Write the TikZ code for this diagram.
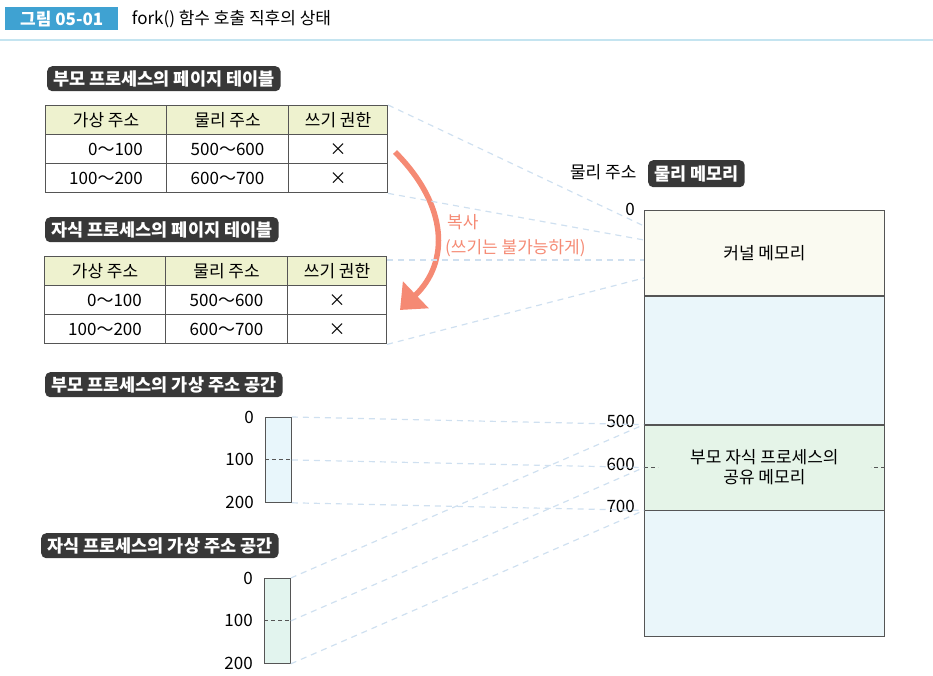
\documentclass[tikz,border=0pt]{standalone}
\usepackage{fontspec}
\setmainfont{Noto Sans CJK KR}
\usetikzlibrary{arrows.meta,matrix,positioning}

\definecolor{tabblue}{HTML}{3FA2D2}
\definecolor{rulecol}{HTML}{C4E4F0}
\definecolor{tagdark}{HTML}{383838}
\definecolor{headfill}{HTML}{EEF2CF}
\definecolor{tline}{HTML}{555555}
\definecolor{linkblue}{HTML}{CFE0F0}
\definecolor{copycol}{HTML}{F58A74}
\definecolor{kernfill}{HTML}{FAFAF1}
\definecolor{freefill}{HTML}{EAF6FA}
\definecolor{sharefill}{HTML}{E5F4E8}
\definecolor{vaspfill}{HTML}{E8F6FB}
\definecolor{vascfill}{HTML}{E2F4EE}

\begin{document}
\begin{tikzpicture}[x=1pt, y=-1pt,
  every node/.style={font=\fontsize{17}{20}\selectfont},
  tag/.style={fill=tagdark, text=white, rounded corners=5pt,
    font=\fontsize{17.5}{20}\selectfont\bfseries, inner xsep=6pt,
    minimum height=25pt, anchor=north west},
  ptable/.style={matrix of nodes, anchor=north west, inner sep=0pt,
    column sep=-0.7pt, row sep=-0.7pt,
    nodes={draw=tline, line width=0.7pt, minimum height=29pt, inner sep=0pt},
    column 1/.style={nodes={minimum width=121pt}},
    column 2/.style={nodes={minimum width=122pt}},
    column 3/.style={nodes={minimum width=99pt}},
    row 1/.style={nodes={fill=headfill}}},
  memblk/.style={draw=tline, line width=0.8pt, minimum width=240pt,
    inner sep=0pt, align=center},
  vas/.style={draw=tline, line width=0.8pt, minimum width=26pt,
    minimum height=85pt, inner sep=0pt, anchor=north west},
  midline/.style={draw=tline, line width=0.9pt, dash pattern=on 4pt off 3pt},
  num/.style={inner sep=1pt},
  link/.style={draw=linkblue, line width=1.2pt, dash pattern=on 6pt off 5pt},
  copyarrow/.style={draw=copycol, line width=5.5pt,
    -{Triangle[width=36pt,length=22pt]}}]
\useasboundingbox (0,0) rectangle (933,675);

% header
\node[fill=tabblue, text=white, font=\fontsize{17}{20}\selectfont\bfseries,
  minimum width=113pt, minimum height=23pt, anchor=north west] (fig) at (5,7) {그림 05-01};
\node[right=10pt of fig, font=\fontsize{17}{20}\selectfont] (title) {fork() 함수 호출 직후의 상태};
\draw[rulecol, line width=1.5pt] (0,40) -- (933,40);

% page tables
\node[tag] (ptagp) at (47,66) {부모 프로세스의 페이지 테이블};
\matrix[ptable] (ptparent) at (45,105) {
  가상 주소 & 물리 주소 & 쓰기 권한 \\
  \hphantom{10}0～100 & 500～600 & × \\
  100～200 & 600～700 & × \\
};
\node[tag] (ptagc) at (45,217) {자식 프로세스의 페이지 테이블};
\matrix[ptable] (ptchild) at (44,256) {
  가상 주소 & 물리 주소 & 쓰기 권한 \\
  \hphantom{10}0～100 & 500～600 & × \\
  100～200 & 600～700 & × \\
};

% copy arrow
\coordinate (cpfrom) at (395,152);
\coordinate (cpto) at (400,310);
\draw[copyarrow] (cpfrom) .. controls (448,205) and (450,262) .. (cpto);
\node[text=copycol, anchor=west, inner sep=0pt] (cp1) at (447,222) {복사};
\node[text=copycol, anchor=west, inner sep=0pt] (cp2) at (445,248) {(쓰기는 불가능하게)};

% physical memory
\node[anchor=east] (phys) at (640,172) {물리 주소};
\node[tag, inner xsep=6pt, minimum height=27pt] (ptagm) at (648,160) {물리 메모리};
\node[memblk, fill=kernfill, minimum height=85pt, anchor=north west] (kern) at (644,210) {커널 메모리};
\node[memblk, fill=freefill, minimum height=128pt, below=0pt of kern] (free1) {};
\node[memblk, fill=sharefill, minimum height=85pt, below=0pt of free1] (shared) {부모 자식 프로세스의\\공유 메모리};
\node[memblk, fill=freefill, minimum height=126pt, below=0pt of shared] (free2) {};
\draw[midline] (shared.west) -- ++(14,0);
\draw[midline] (shared.east) -- ++(-14,0);

\node[num, anchor=east] (m0) at (636,209) {0};
\node[num, anchor=east] (m500) at (636,421) {500};
\node[num, anchor=east] (m600) at (636,464) {600};
\node[num, anchor=east] (m700) at (636,506) {700};

% virtual address spaces
\node[tag] (vtagp) at (45,372) {부모 프로세스의 가상 주소 공간};
\node[vas, fill=vaspfill] (vasp) at (265,417) {};
\draw[midline] (vasp.west) -- (vasp.east);
\node[num, anchor=east] at ([xshift=-10pt]vasp.north west) {0};
\node[num, anchor=east] at ([xshift=-10pt]vasp.west) {100};
\node[num, anchor=east] at ([xshift=-10pt]vasp.south west) {200};

\node[tag] (vtagc) at (41,533) {자식 프로세스의 가상 주소 공간};
\node[vas, fill=vascfill] (vasc) at (264,578) {};
\draw[midline] (vasc.west) -- (vasc.east);
\node[num, anchor=east] at ([xshift=-10pt]vasc.north west) {0};
\node[num, anchor=east] at ([xshift=-10pt]vasc.west) {100};
\node[num, anchor=east] at ([xshift=-10pt]vasc.south west) {200};

% links to physical memory
\coordinate (k1) at (644,226);
\coordinate (k2) at (644,240);
\coordinate (k3) at (644,260);
\coordinate (k4) at (644,278);
\draw[link] (ptparent.north east) -- (k1);
\draw[link] (ptparent.south east) -- (k2);
\draw[link] ([yshift=-4pt]ptchild.north east) -- (k3);
\draw[link] (ptchild.south east) -- (k4);

\draw[link] (vasp.north east) -- (shared.north west);
\draw[link] (vasp.east) -- (shared.west);
\draw[link] (vasp.south east) -- (shared.south west);
\draw[link] (vasc.north east) -- (shared.north west);
\draw[link] (vasc.east) -- (shared.west);
\draw[link] (vasc.south east) -- (shared.south west);
\end{tikzpicture}
\end{document}
